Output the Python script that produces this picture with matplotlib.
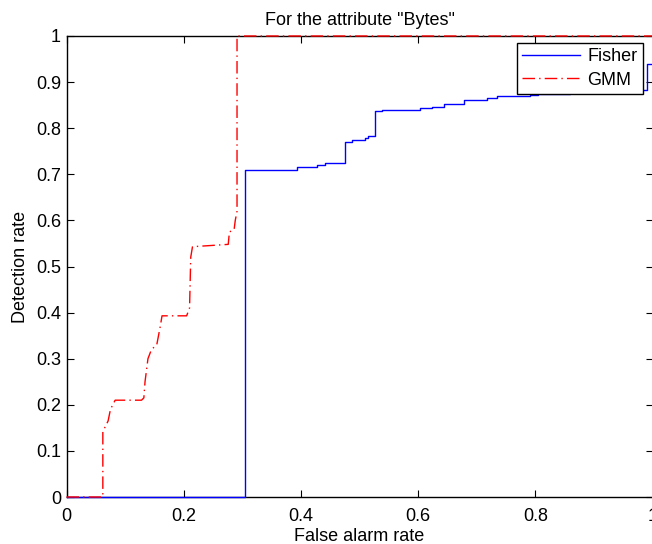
import numpy as np
import matplotlib.pyplot as plt

plt.rcParams['font.family'] = ['Liberation Sans', 'DejaVu Sans']

# ROC points
fisher_far = [0.0, 0.305, 0.393, 0.427, 0.441, 0.475, 0.487, 0.509, 0.514, 0.527,
              0.538, 0.603, 0.623, 0.645, 0.678, 0.717, 0.734, 0.791, 0.805, 0.86,
              0.93, 0.99, 1.0]
fisher_dr = [0.0, 0.71, 0.715, 0.72, 0.724, 0.771, 0.774, 0.778, 0.784, 0.837,
             0.840, 0.843, 0.847, 0.852, 0.861, 0.866, 0.869, 0.871, 0.874, 0.878,
             0.882, 0.94, 1.0]

gmm_far = [0.0, 0.062, 0.062, 0.071, 0.075, 0.083, 0.128, 0.132, 0.134, 0.139,
           0.145, 0.154, 0.160, 0.163, 0.205, 0.210, 0.212, 0.215, 0.240, 0.276,
           0.278, 0.286, 0.288, 0.291, 0.291, 1.0]
gmm_dr = [0.0, 0.0, 0.142, 0.165, 0.19, 0.21, 0.21, 0.215, 0.25, 0.30,
          0.32, 0.33, 0.37, 0.393, 0.393, 0.41, 0.52, 0.543, 0.545, 0.548,
          0.575, 0.58, 0.60, 0.62, 1.0, 1.0]

fs = 13

fig = plt.figure(figsize=(6.52, 5.44), dpi=100)
ax = fig.add_axes([66.5 / 652, 47 / 544, 586 / 652, 461 / 544])

ax.plot(fisher_far, fisher_dr, color='blue', lw=1.0, drawstyle='steps-post',
        label='Fisher', zorder=3, clip_on=False)
ax.plot(gmm_far, gmm_dr, color='red', lw=1.0, linestyle=(0, (9, 3, 1, 3)),
        label='GMM', zorder=3, clip_on=False)

ax.set_xlim(0, 1)
ax.set_ylim(0, 1)
ax.set_xticks([0, 0.2, 0.4, 0.6, 0.8, 1])
ax.set_xticklabels(['0', '0.2', '0.4', '0.6', '0.8', '1'])
ax.set_yticks(np.arange(0, 1.01, 0.1))
ax.set_yticklabels(['0', '0.1', '0.2', '0.3', '0.4', '0.5', '0.6', '0.7', '0.8', '0.9', '1'])
ax.tick_params(direction='in', top=True, right=True, length=5, width=0.8, labelsize=fs)
ax.tick_params(axis='x', pad=8)
ax.tick_params(axis='y', pad=4)
for s in ax.spines.values():
    s.set_linewidth(1.0)

ax.set_xlabel('False alarm rate', fontsize=fs, labelpad=2)
ax.set_ylabel('Detection rate', fontsize=fs, labelpad=5)
ax.set_title('For the attribute "Bytes"', fontsize=fs, pad=8)

leg = ax.legend(loc='upper right', bbox_to_anchor=(643 / 652, 1 - 43 / 544),
                bbox_transform=fig.transFigure, fontsize=fs, fancybox=False,
                framealpha=1, edgecolor='black', handlelength=3.2, borderpad=0.3,
                labelspacing=0.35, handletextpad=0.4, borderaxespad=0)
leg.get_frame().set_linewidth(1.0)
leg.set_zorder(5)

fig.savefig('out.png', dpi=100)
